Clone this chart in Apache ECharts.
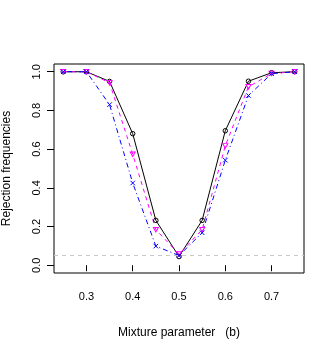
<!DOCTYPE html>
<html>
<head>
<meta charset="utf-8">
<script src="https://cdn.jsdelivr.net/npm/echarts@6/dist/echarts.min.js"></script>
<style>
  html, body { margin: 0; padding: 0; background: #fff; }
  #main { width: 332px; height: 354px; }
</style>
</head>
<body>
<div id="main"></div>
<script>
// 混合参数 b
var mixB = [0.25, 0.3, 0.35, 0.4, 0.45, 0.5, 0.55, 0.6, 0.65, 0.7, 0.75];
// 三条拒绝频率曲线
var rejBlack = [1.0, 1.0, 0.95, 0.68, 0.232, 0.045, 0.232, 0.695, 0.951, 0.995, 1.0];
var rejMagenta = [1.0, 1.0, 0.943, 0.574, 0.184, 0.058, 0.184, 0.617, 0.922, 0.991, 1.0];
var rejBlue = [1.0, 1.0, 0.83, 0.425, 0.099, 0.05, 0.168, 0.543, 0.877, 0.99, 1.0];
var xTicks = [0.3, 0.4, 0.5, 0.6, 0.7];
var yTicks = [0, 0.2, 0.4, 0.6, 0.8, 1.0];
var alpha = 0.05;

function pairs(ys) {
    return mixB.map(function (x, i) { return [x, ys[i]]; });
}

var myChart = echarts.init(document.getElementById('main'));

var font = 'Liberation Sans, Arial, sans-serif';

option = {
    animation: false,
    grid: {
        left: 54,
        right: 28,
        top: 64,
        bottom: 81,
        outerBoundsMode: 'none',
        containLabel: false,
        show: true,
        borderColor: '#000',
        borderWidth: 1
    },
    xAxis: {
        type: 'value',
        min: 0.23,
        max: 0.77,
        name: 'Mixture parameter   (b)',
        nameLocation: 'middle',
        nameGap: 54,
        nameTextStyle: { fontFamily: font, fontSize: 12, color: '#000' },
        axisLine: { show: false },
        axisTick: {
            show: true, length: 6, inside: false,
            customValues: xTicks,
            lineStyle: { color: '#000' }
        },
        axisLabel: {
            customValues: xTicks,
            margin: 18,
            fontFamily: font, fontSize: 11, color: '#000',
            formatter: function (v) { return v.toFixed(1); }
        },
        splitLine: { show: false }
    },
    yAxis: {
        type: 'value',
        min: -0.04,
        max: 1.04,
        name: 'Rejection frequencies',
        nameLocation: 'middle',
        nameGap: 41,
        nameTextStyle: { fontFamily: font, fontSize: 12, color: '#000' },
        axisLine: { show: false },
        axisTick: {
            show: true, length: 7, inside: false,
            customValues: yTicks,
            lineStyle: { color: '#000' }
        },
        axisLabel: {
            customValues: yTicks,
            rotate: 90,
            margin: 12,
            fontFamily: font, fontSize: 11, color: '#000',
            formatter: function (v) { return v.toFixed(1); }
        },
        splitLine: { show: false }
    },
    series: [
        {
            name: 'black',
            type: 'line',
            data: pairs(rejBlack),
            symbol: 'circle',
            symbolSize: 4.5,
            lineStyle: { color: '#000', width: 1, type: 'solid' },
            itemStyle: { color: 'none', borderColor: '#000', borderWidth: 1 },
            markLine: {
                silent: true,
                symbol: 'none',
                label: { show: false },
                lineStyle: { color: '#c8c8c8', type: [4, 4], width: 1 },
                data: [{ yAxis: alpha }]
            }
        },
        {
            name: 'magenta',
            type: 'line',
            data: pairs(rejMagenta),
            symbol: 'path://M0,0L10,0L5,8.66Z',
            symbolSize: [5, 4.5],
            lineStyle: { color: '#ff00ff', width: 1, type: [4, 4] },
            itemStyle: { color: 'none', borderColor: '#ff00ff', borderWidth: 1 }
        },
        {
            name: 'blue',
            type: 'line',
            data: pairs(rejBlue),
            symbol: 'path://M0,0L10,10M10,0L0,10',
            symbolSize: 4.5,
            lineStyle: { color: '#0000ff', width: 1, type: [1, 3, 5, 3] },
            itemStyle: { color: 'none', borderColor: '#0000ff', borderWidth: 1 }
        }
    ]
};

myChart.setOption(option);
</script>
</body>
</html>
